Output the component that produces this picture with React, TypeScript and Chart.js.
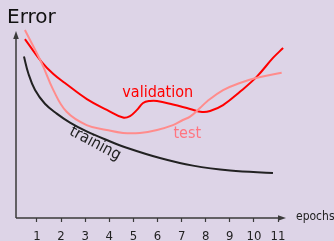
import { useEffect, useRef } from 'react';
import { Chart, registerables } from 'chart.js';

Chart.register(...registerables);

// ---- data ----
const epochTicks = [1, 2, 3, 4, 5, 6, 7, 8, 9, 10, 11];
const tickLabels = ['1', '2', '3', '4', '5', '6', '7', '8', '9', '10', '11'];

const trainingX = [0.46, 0.64, 0.92, 1.33, 1.82, 2.37, 3.06, 3.89, 4.72, 6.1, 7.47, 9.01, 10.79];
const trainingY = [8.63, 7.74, 6.84, 6.11, 5.58, 5.1, 4.63, 4.17, 3.76, 3.21, 2.8, 2.54, 2.41];

const validationX = [0.5, 1.2, 1.68, 2.16, 3.07, 3.9, 4.57, 4.86, 5.15, 5.4, 5.69, 5.98, 6.64, 7.35, 7.85, 8.18, 8.72, 9.42, 10.12, 10.79, 11.21];
const validationY = [9.57, 8.34, 7.7, 7.22, 6.36, 5.78, 5.37, 5.45, 5.78, 6.15, 6.26, 6.26, 6.07, 5.83, 5.67, 5.72, 6.04, 6.75, 7.56, 8.56, 9.09];

const testX = [0.5, 1.2, 1.68, 2.23, 3.06, 3.89, 4.57, 5.27, 5.98, 6.64, 7.05, 7.35, 7.76, 8.04, 8.72, 9.42, 10.12, 11.15];
const testY = [10.05, 8.27, 6.84, 5.68, 4.97, 4.71, 4.55, 4.55, 4.71, 4.97, 5.24, 5.42, 5.88, 6.22, 6.84, 7.22, 7.5, 7.77];

const seriesNames = ['training', 'validation', 'test'];
const labelX = [3.41, 4.54, 6.66];
const labelY = [3.98, 6.49, 4.26];

const pts = (xs: number[], ys: number[]) => xs.map((x, i) => ({ x, y: ys[i] }));

const COND = '"DejaVu Sans Condensed", "DejaVu Sans", sans-serif';
const REG = '"DejaVu Sans", sans-serif';

const decorPlugin = {
  id: 'decor',
  afterDatasetsDraw(chart: any) {
    const { ctx, chartArea, scales } = chart;
    const xs = scales.x;
    const ys = scales.y;
    const left = chartArea.left;
    const bottom = chartArea.bottom;
    const right = chartArea.right;
    const yTip = ys.getPixelForValue(10);
    ctx.save();
    ctx.strokeStyle = '#3a3a3a';
    ctx.fillStyle = '#3a3a3a';
    ctx.lineWidth = 1.5;
    ctx.beginPath();
    ctx.moveTo(left, bottom);
    ctx.lineTo(left, yTip + 6);
    ctx.moveTo(left, bottom);
    ctx.lineTo(right - 6, bottom);
    ctx.stroke();
    ctx.beginPath();
    ctx.moveTo(left, yTip);
    ctx.lineTo(left - 2.8, yTip + 8);
    ctx.lineTo(left + 2.8, yTip + 8);
    ctx.closePath();
    ctx.fill();
    ctx.beginPath();
    ctx.moveTo(right, bottom);
    ctx.lineTo(right - 8, bottom - 2.8);
    ctx.lineTo(right - 8, bottom + 2.8);
    ctx.closePath();
    ctx.fill();

    ctx.fillStyle = '#111';
    ctx.font = `20px ${REG}`;
    ctx.textAlign = 'left';
    ctx.textBaseline = 'alphabetic';
    ctx.fillText('Error', left - 9, yTip - 8);

    ctx.fillStyle = '#222';
    ctx.font = `12px ${COND}`;
    ctx.fillText('epochs', right + 10, bottom + 2);

    // curve labels
    const colors = ['#222222', '#ff0000', '#ff7580'];
    const fonts = [`16px ${COND}`, `16px ${COND}`, `16px ${COND}`];
    const angles = [28, 0, 0];
    seriesNames.forEach((name, i) => {
      const px = xs.getPixelForValue(labelX[i]);
      const py = ys.getPixelForValue(labelY[i]);
      ctx.save();
      ctx.translate(px, py);
      ctx.rotate((angles[i] * Math.PI) / 180);
      ctx.fillStyle = colors[i];
      ctx.font = fonts[i];
      if (i === 0) {
        ctx.textAlign = 'center';
        ctx.textBaseline = 'middle';
      } else {
        ctx.textAlign = 'left';
        ctx.textBaseline = 'alphabetic';
      }
      ctx.fillText(name, 0, 0);
      ctx.restore();
    });
    ctx.restore();
  },
};

export default function App() {
  const ref = useRef<HTMLCanvasElement>(null);
  useEffect(() => {
    document.body.style.margin = '0';
    document.body.style.background = '#ddd4e7';
    const canvas = ref.current!;
    const chart = new Chart(canvas, {
      type: 'line',
      data: {
        datasets: [
          {
            label: 'training',
            data: pts(trainingX, trainingY),
            borderColor: '#222222',
            borderWidth: 2,
            pointRadius: 0,
            tension: 0.4,
          },
          {
            label: 'test',
            data: pts(testX, testY),
            borderColor: '#ff8c8c',
            borderWidth: 2,
            pointRadius: 0,
            tension: 0.4,
          },
          {
            label: 'validation',
            data: pts(validationX, validationY),
            borderColor: '#ff0000',
            borderWidth: 2,
            pointRadius: 0,
            tension: 0.4,
          },
        ],
      },
      options: {
        animation: false,
        responsive: false,
        devicePixelRatio: 1,
        layout: { padding: { left: 16, right: 48, top: 12.3, bottom: 0 } },
        plugins: { legend: { display: false }, tooltip: { enabled: false } },
        scales: {
          x: {
            type: 'linear',
            min: 0.13,
            max: 11.33,
            grid: {
              display: true,
              drawOnChartArea: false,
              drawTicks: true,
              tickLength: 4,
              tickColor: '#3a3a3a',
              tickWidth: 1.2,
            },
            border: { display: false },
            afterBuildTicks: (s: any) => {
              s.ticks = epochTicks.map((v) => ({ value: v }));
            },
            afterFit: (s: any) => {
              s.height = 23;
            },
            ticks: {
              autoSkip: false,
              maxRotation: 0,
              padding: 7,
              color: '#222',
              font: { family: COND, size: 13 },
              callback: (v: any) => tickLabels[epochTicks.indexOf(Number(v))] ?? '',
            },
          },
          y: { type: 'linear', display: false, min: 0, max: 11 },
        },
      },
      plugins: [decorPlugin],
    } as any);
    return () => chart.destroy();
  }, []);
  return (
    <div style={{ width: 334, height: 241, background: '#ddd4e7' }}>
      <canvas ref={ref} width={334} height={241} style={{ display: 'block' }} />
    </div>
  );
}
